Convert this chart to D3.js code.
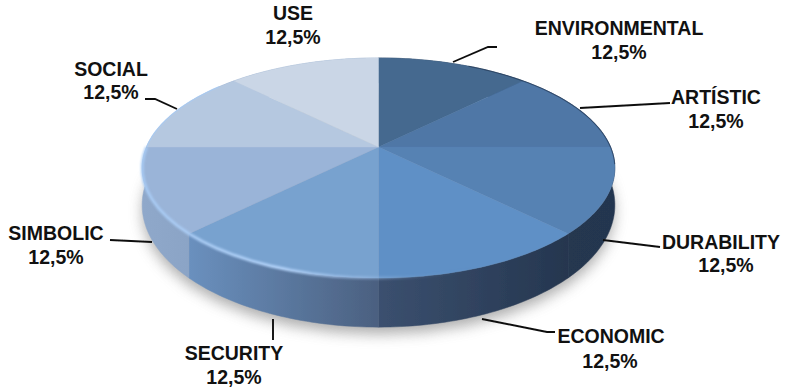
<!DOCTYPE html>
<html><head><meta charset="utf-8">
<script src="https://cdn.jsdelivr.net/npm/d3@7"></script>
<style>html,body{margin:0;background:#fff}svg{display:block}text{font-family:"Liberation Sans",Arial,sans-serif;font-weight:700;font-size:19.5px;fill:#111;text-anchor:middle}</style>
</head><body><div id="c"></div>
<script>
const categories=["ENVIRONMENTAL","ARTÍSTIC","DURABILITY","ECONOMIC","SECURITY","SIMBOLIC","SOCIAL","USE"];
const values=[12.5,12.5,12.5,12.5,12.5,12.5,12.5,12.5];
const valueLabels=["12,5%","12,5%","12,5%","12,5%","12,5%","12,5%","12,5%","12,5%"];
const topColors=["#44698f","#4f77a6","#5782b3","#5f90c6","#78a2cf","#9ab4d8","#b5c8e0","#cad6e6"];
const sideStops=[["#2a3f5c","#2a3f5c"],["#2a3f5c","#2a3f5c"],["#25374f","#24364f"],["#3b506f","#25364f"],["#6a90be","#4b6080"],["#8fa8ca","#8ba4c6"],["#8fa8ca","#8fa8ca"],["#8fa8ca","#8fa8ca"]];
const labelXY=[[619,28,619,52],[716,97,716,121],[721,242,726,265],[611,336,610,361],[234,353,234,377],[56,233,56,257],[111,69,111,92],[293,13,293,37]];
const leaders=[[[453,62],[488,47],[497,47]],[[580,108],[670,103]],[[603,240],[660,247]],[[482,319],[547,332],[555,332]],[[273,319],[273,340]],[[110,240],[152,242]],[[145,99],[155,99],[177,109]],[]];

const W=790,H=390;
const svg=d3.select("#c").append("svg").attr("width",W).attr("height",H);
const defs=svg.append("defs");
const blur=(id,s)=>defs.append("filter").attr("id",id).attr("x","-20%").attr("y","-20%").attr("width","140%").attr("height","140%").append("feGaussianBlur").attr("stdDeviation",s);
blur("b0",0.5);blur("b1",1.2);blur("b8",7);

// perspective projection of the pie's disc
const cx=378.5,X=232,Y=78,Y0=147,k=-0.191;
const proj=(a,low)=>{const u=Math.sin(a),v=-Math.cos(a),d=1+k*v;
  const x=X*u/d,y=(Y*v+Y0)/d;
  return low?[cx+x,205+(y-168)*122/110]:[cx+x,y];};
const arcPts=(a0,a1,low)=>d3.range(0,41).map(i=>proj(a0+(a1-a0)*i/40,low));
const line=d3.line();
const pie=d3.pie().sort(null).value(d=>d)(values);

// ground shadow
svg.append("path").attr("d",line(arcPts(0,2*Math.PI,true))+"Z").attr("transform","translate(0,7)")
  .attr("fill","#777").attr("opacity",.6).attr("filter","url(#b8)");

const g=svg.append("g").attr("filter","url(#b0)");
// side wall
pie.forEach((s,i)=>{
  const top=arcPts(s.startAngle,s.endAngle,false),low=arcPts(s.startAngle,s.endAngle,true);
  const xs=top.concat(low).map(p=>p[0]);
  const gr=defs.append("linearGradient").attr("id","s"+i).attr("gradientUnits","userSpaceOnUse")
    .attr("x1",d3.min(xs)).attr("x2",d3.max(xs)).attr("y1",0).attr("y2",0);
  gr.append("stop").attr("offset",0).attr("stop-color",sideStops[i][0]);
  gr.append("stop").attr("offset",1).attr("stop-color",sideStops[i][1]);
  g.append("path").attr("d",line(top.concat(low.reverse()))+"Z").attr("fill","url(#s"+i+")").attr("stroke","url(#s"+i+")").attr("stroke-width",.5);
});
// top face
pie.forEach((s,i)=>{
  g.append("path").attr("d",line([[cx,Y0]].concat(arcPts(s.startAngle,s.endAngle,false)))+"Z")
    .attr("fill",topColors[i]).attr("stroke",topColors[i]).attr("stroke-width",.4);
});
// bevel highlight and dark edge
const rimGrad=defs.append("linearGradient").attr("id","rim").attr("gradientUnits","userSpaceOnUse").attr("x1",143).attr("x2",615).attr("y1",0).attr("y2",0);
[[0,"#a8ccf6",.9],[.3,"#b4d4fa",.95],[.47,"#9fc0ea",.55],[.58,"#8fb0d8",.12],[.7,"#5f82ad",0],[1,"#1f3350",0]].forEach(d=>rimGrad.append("stop").attr("offset",d[0]).attr("stop-color",d[1]).attr("stop-opacity",d[2]));
svg.append("path").attr("d",line(arcPts(Math.PI*.15,Math.PI*.55,false))).attr("fill","none")
  .attr("stroke","#1f3350").attr("stroke-width",1.1).attr("opacity",.6).attr("filter","url(#b0)");
svg.append("path").attr("d",line(arcPts(Math.PI/2,Math.PI*1.5,false))).attr("fill","none")
  .attr("stroke","url(#rim)").attr("stroke-width",3).attr("filter","url(#b1)");
svg.append("path").attr("d",line(arcPts(Math.PI*1.5,Math.PI*1.72,false))).attr("fill","none")
  .attr("stroke","#a8ccf6").attr("stroke-width",1.4).attr("opacity",.65).attr("filter","url(#b0)");

// leaders
svg.append("g").attr("filter","url(#b0)").selectAll("path").data(leaders.filter(l=>l.length)).join("path")
  .attr("d",d=>line(d)).attr("fill","none").attr("stroke","#111").attr("stroke-width",1.9);
// labels
const tg=svg.append("g");
categories.forEach((c,i)=>{
  tg.append("text").attr("x",labelXY[i][0]).attr("y",labelXY[i][1]+7).text(c);
  tg.append("text").attr("x",labelXY[i][2]).attr("y",labelXY[i][3]+7).text(valueLabels[i]);
});
</script></body></html>
